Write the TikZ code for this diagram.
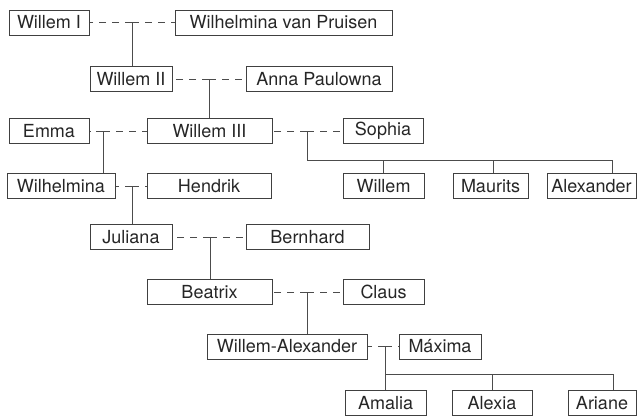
\documentclass[tikz,border=0pt]{standalone}
\usepackage{fontspec}
\setmainfont{TeX Gyre Heros}

\begin{document}
\begin{tikzpicture}[x=1pt,y=-1pt,
        person/.style={draw=black!75,line width=1pt,inner sep=0pt,minimum height=25pt,
                text=black!85,font=\fontsize{18}{20}\selectfont},
        marriage/.style={draw=black!70,line width=1pt,dash pattern=on 7pt off 6pt},
        line/.style={draw=black!70,line width=1pt}]
                \useasboundingbox (0,0) rectangle (637,415);

                \node[person,minimum width=80pt] (w1) at (49,22.5) {Willem I};
                \node[person,minimum width=217pt] (wvp) at (283.5,22.5) {Wilhelmina van Pruisen};
                \node[person,minimum width=82pt] (w2) at (131,79) {Willem II};
                \node[person,minimum width=146pt] (ap) at (319,79) {Anna Paulowna};
                \node[person,minimum width=80pt] (emma) at (49,131) {Emma};
                \node[person,minimum width=125pt] (w3) at (209.5,131) {Willem III};
                \node[person,minimum width=80pt] (sophia) at (383,131) {Sophia};
                \node[person,minimum width=108pt] (wilh) at (61,186) {Wilhelmina};
                \node[person,minimum width=124pt] (hendrik) at (209,186) {Hendrik};
                \node[person,minimum width=81pt] (willem) at (383.5,186) {Willem};
                \node[person,minimum width=75pt] (maurits) at (490.5,186) {Maurits};
                \node[person,minimum width=89pt] (alex) at (591.5,186) {Alexander};
                \node[person,minimum width=82pt] (juliana) at (131,237) {Juliana};
                \node[person,minimum width=123pt] (bernhard) at (307.5,237) {Bernhard};
                \node[person,minimum width=125pt] (beatrix) at (209.5,292) {Beatrix};
                \node[person,minimum width=81pt] (claus) at (383.5,292) {Claus};
                \node[person,minimum width=160pt] (wa) at (287,346.5) {Willem-Alexander};
                \node[person,minimum width=82pt] (maxima) at (440,346.5) {Máxima};
                \node[person,minimum width=81pt] (amalia) at (385.5,403) {Amalia};
                \node[person,minimum width=80pt] (alexia) at (492,403) {Alexia};
                \node[person,minimum width=68pt] (ariane) at (602,403) {Ariane};

                \coordinate (j1) at (132,22.5);
                \coordinate (j2) at (209,79);
                \coordinate (j3) at (103,131);
                \coordinate (j4) at (307,131);
                \coordinate (j5) at (132,186);
                \coordinate (j6) at (210,237);
                \coordinate (j7) at (307,292);
                \coordinate (j8) at (385,346.5);
                \coordinate (b4) at (612,160);
                \coordinate (b8) at (613,374);

                \draw[marriage] (j1) -- (w1.east);
                \draw[marriage] (j1) -- (wvp.west);
                \draw[marriage] (j2) -- (w2.east);
                \draw[marriage] (j2) -- (ap.west);
                \draw[marriage] (j3) -- (emma.east);
                \draw[marriage] (j3) -- (w3.west);
                \draw[marriage] (j4) -- (w3.east);
                \draw[marriage] (j4) -- (sophia.west);
                \draw[marriage] (j5) -- (wilh.east);
                \draw[marriage] (j5) -- (hendrik.west);
                \draw[marriage] (j6) -- (juliana.east);
                \draw[marriage] (j6) -- (bernhard.west);
                \draw[marriage] (j7) -- (beatrix.east);
                \draw[marriage] (j7) -- (claus.west);
                \draw[marriage] (j8) -- (wa.east);
                \draw[marriage] (j8) -- (maxima.west);

                \draw[line] (j1) -- (j1 |- w2.north);
                \draw[line] (j2) -- (j2 |- w3.north);
                \draw[line] (j3) -- (j3 |- wilh.north);
                \draw[line] (j4) |- (b4) -- (b4 |- alex.north);
                \draw[line] (willem.north |- b4) -- (willem.north);
                \draw[line] (493,160) -- (493,0 |- maurits.north);
                \draw[line] (j5) -- (j5 |- juliana.north);
                \draw[line] (j6) -- (j6 |- beatrix.north);
                \draw[line] (j7) -- (j7 |- wa.north);
                \draw[line] (j8) -- (j8 |- amalia.north);
                \draw[line] (j8 |- b8) -- (b8) -- (b8 |- ariane.north);
                \draw[line] (alexia.north |- b8) -- (alexia.north);
\end{tikzpicture}
\end{document}
